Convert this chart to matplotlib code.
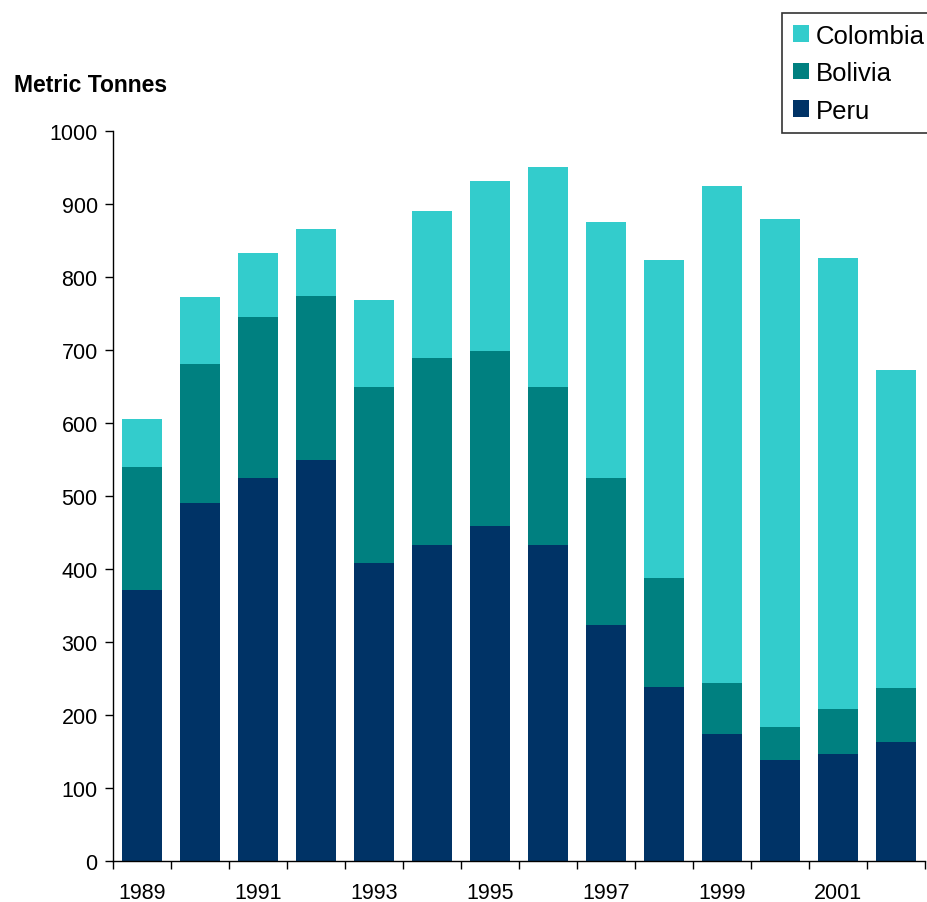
import matplotlib
matplotlib.use("Agg")
import matplotlib.pyplot as plt
from matplotlib.patches import Patch
import numpy as np

plt.rcParams['font.family'] = ['Liberation Sans', 'DejaVu Sans']

years = [1989, 1990, 1991, 1992, 1993, 1994, 1995, 1996, 1997, 1998, 1999, 2000, 2001, 2002]
peru = [371, 490, 525, 549, 408, 433, 459, 433, 323, 238, 174, 138, 147, 163]
bolivia = [169, 191, 220, 225, 241, 256, 240, 216, 202, 150, 70, 46, 61, 74]
colombia = [65, 92, 88, 92, 119, 201, 233, 302, 350, 435, 681, 695, 618, 436]
tick_labels = ['1989', '', '1991', '', '1993', '', '1995', '', '1997', '', '1999', '', '2001', '']

c_peru = '#003366'
c_bolivia = '#008080'
c_colombia = '#33CCCC'

fig = plt.figure(figsize=(9.28, 9.03), dpi=100)
ax = fig.add_axes([113 / 928, 1 - 862 / 903, 812 / 928, 730 / 903])

x = np.arange(len(years))
w = 0.68
peru_a = np.array(peru)
bol_a = np.array(bolivia)
col_a = np.array(colombia)
ax.bar(x, peru_a, width=w, color=c_peru, zorder=2)
ax.bar(x, bol_a, width=w, bottom=peru_a, color=c_bolivia, zorder=2)
ax.bar(x, col_a, width=w, bottom=peru_a + bol_a, color=c_colombia, zorder=2)

ax.set_xlim(-0.5, len(years) - 0.5)
ax.set_ylim(0, 1000)
ax.set_yticks(np.arange(0, 1001, 100))
ax.tick_params(axis='y', direction='out', length=6, width=1, labelsize=15.5, pad=5)

# category boundaries carry the tick marks; year labels sit at bar centres
ax.set_xticks(np.arange(-0.5, len(years) + 0.5, 1.0))
ax.set_xticklabels([])
ax.set_xticks(x, minor=True)
ax.set_xticklabels(tick_labels, minor=True)
ax.tick_params(axis='x', which='major', direction='out', length=6, width=1)
ax.tick_params(axis='x', which='minor', length=0, labelsize=15.5, pad=15)

for s in ['top', 'right']:
    ax.spines[s].set_visible(False)
for s in ['left', 'bottom']:
    ax.spines[s].set_linewidth(1)
    ax.spines[s].set_color('black')

fig.text(14 / 928, 1 - 85 / 903, 'Metric Tonnes', fontsize=16.5, fontweight='bold', va='center', ha='left')

handles = [Patch(facecolor=c_colombia, label='Colombia'),
           Patch(facecolor=c_bolivia, label='Bolivia'),
           Patch(facecolor=c_peru, label='Peru')]
leg = fig.legend(handles=handles, loc='upper left', bbox_to_anchor=(782 / 928, 1 - 14 / 903),
                 fontsize=18.5, frameon=True, fancybox=False, edgecolor='black',
                 handlelength=0.62, handleheight=0.62, handletextpad=0.27,
                 labelspacing=0.52, borderpad=0.42, borderaxespad=0)
leg.get_frame().set_linewidth(1.2)

fig.savefig('out.png', dpi=100)
